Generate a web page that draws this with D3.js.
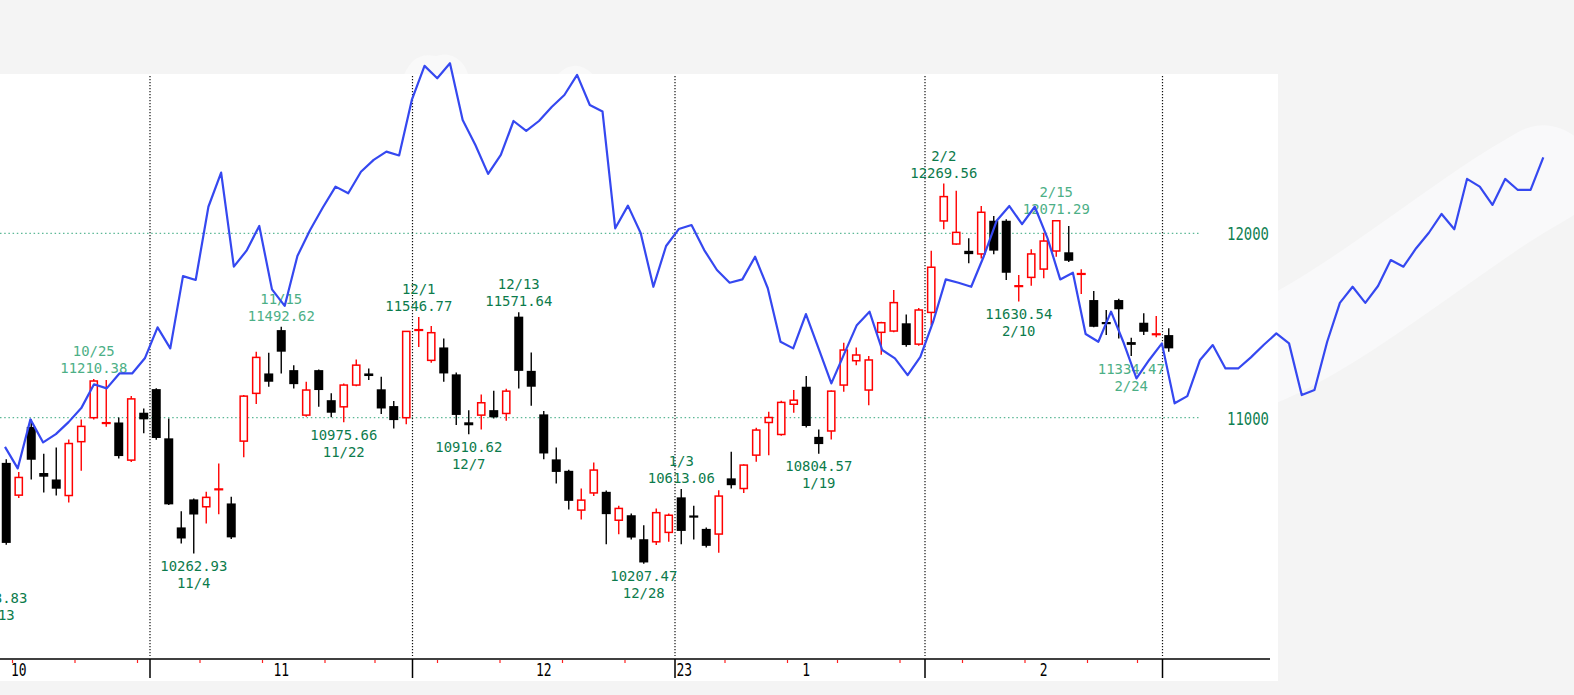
<!DOCTYPE html>
<html><head><meta charset="utf-8">
<script src="https://cdn.jsdelivr.net/npm/d3@7"></script>
<style>html,body{margin:0;padding:0;background:#f4f4f4;overflow:hidden}svg{display:block}</style>
</head><body>
<svg id="chart" width="1574" height="695"></svg>
<script>
// ---------- data ----------
const dates = ["10/13","10/14","10/17","10/18","10/19","10/20","10/21","10/24","10/25","10/26","10/27","10/28","10/31",
"11/1","11/2","11/3","11/4","11/7","11/8","11/9","11/10","11/11","11/14","11/15","11/16","11/17","11/18","11/21","11/22","11/23","11/25","11/28","11/29","11/30",
"12/1","12/2","12/5","12/6","12/7","12/8","12/9","12/12","12/13","12/14","12/15","12/16","12/19","12/20","12/21","12/22","12/23","12/27","12/28","12/29","12/30",
"1/3","1/4","1/5","1/6","1/9","1/10","1/11","1/12","1/13","1/17","1/18","1/19","1/20","1/23","1/24","1/25","1/26","1/27","1/30","1/31",
"2/1","2/2","2/3","2/6","2/7","2/8","2/9","2/10","2/13","2/14","2/15","2/16","2/17","2/21","2/22","2/23","2/24","2/27","2/28",
"3/1"];
const openP = [10180,10755,10580,10950,10700,10665,10578,10870,11000,10968,10974,10770,11027,
11155,10888,10405,10557,10517,10608,10535,10873,11132,11240,11475,11258,11014,11258,11095,11059,11177,11240,11154,11063,11000,
11470,11311,11381,11235,10975,11014,11041,11023,11548,11254,11018,10774,10712,10499,10592,10598,10444,10471,10341,10327,10378,
10568,10470,10397,10369,10671,10616,10797,10974,10909,11073,11168,10896,10928,11177,11309,11150,11463,11470,11512,11399,
11571,12067,11942,11905,11888,12068,12068,11710,11761,11806,11904,11897,11774,11638,11520,11638,11410,11515,11450,
11448];
const highP = [10688,10774,10705,10990,10805,10838,10882,10990,11210.38,11204,11001,11118,11050,
11160,10996,10493,10562,10598,10752,10571,11123,11358,11352,11492.62,11285,11195,11262,11132,11186,11316,11267,11222,11090,11470,
11546.77,11497,11430,11245,11041,11126,11146,11157,11571.64,11354,11036,10839,10718,10616,10757,10605,10522,10481,10417,10508,10480,
10613.06,10522,10405,10607,10815,10748,10945,11032,11092,11150,11226,10936,11148,11406,11381,11334,11520,11692,11560,11595,
11906,12269.56,12231,11973,12148,12094,12076,11774,11913,12003,12071.29,12040,11805,11687,11584,11645,11433,11566,11551,
11485];
const lowP = [10088.83,10311,10565,10665,10595,10578,10540,10712,10990,10951,10779,10760,10915,
10880,10526,10318,10262.93,10426,10477,10342,10785,11074,11168,11240,11159,11005,11059,11002,10975.66,11170,11204,11020,10942,10964,
11383,11298,11195,10960,10910.62,10936,10996,10983,11159,11065,10774,10643,10502,10448,10575,10314,10368,10340,10207.47,10309,10327,
10314,10340,10296,10267,10616,10592,10761,10797,10902,11027,10947,10804.57,10882,11141,11285,11068,11341,11463,11385,11390,
11502,12022,11938,11837,11864,11886,11747,11630.54,11716,11756,11873,11845,11671,11490,11448,11430,11334.47,11448,11436,
11358];
const closeP = [10649,10321,10676,10772,10680,10615,10860,10953,11199,10975,10792,11102,10991,
10890,10530,10345,10475,10568,10616,10351,11117,11327,11195,11358,11182,11150,11150,11027,11177,11285,11226,11050,10987,11468,
11482,11461,11240,11015,10959,11081,11002,11144,11254,11168,10806,10706,10549,10553,10716,10477,10508,10350,10215,10485,10471,
10386,10459,10305,10575,10634,10743,10933,11001,11083,11095,10955,10857,11144,11367,11340,11313,11515,11624,11394,11584,
11816,12199,12005,11887,12114,11906,11786,11718,11888,11958,12068,11851,11786,11493,11507,11588,11395,11466,11456,
11376];

// blue overlay line (one point per step)
const lineValues = [10842,10725,10991,10866,10911,10976,11052,11181,11159,11240,
11240,11322,11490,11376,11768,11747,12144,12329,11819,11906,
12040,11696,11606,11877,12018,12140,12253,12217,12334,12398,
12443,12422,12723,12908,12841,12922,12615,12479,12322,12425,
12609,12555,12609,12685,12750,12859,12696,12660,12027,12150,
12002,11710,11931,12023,12045,11909,11801,11732,11750,11873,
11702,11412,11376,11562,11374,11186,11345,11502,11575,11367,
11322,11231,11330,11519,11750,11732,11710,11877,12068,12148,
12050,12144,11974,11750,11786,11454,11412,11575,11405,11213,
11313,11403,11078,11117,11313,11394,11267,11267,11327,11394,
11457,11403,11123,11150,11412,11623,11710,11623,11714,11855,
11819,11919,12003,12105,12022,12295,12253,12154,12295,12235,
12235,12412];

const yTickValues = [11000, 12000];
const monthLabels = ["10","11","12","1","2"];
const monthLabelDates = ["10/17","11/15","12/15","1/18","2/14"];
const yearLabel = "23";
const yearLabelDate = "1/3";

const annoDates = ["10/13","10/25","11/4","11/15","11/22","12/1","12/7","12/13","12/28","1/3","1/19","2/2","2/10","2/15","2/24"];
const annoKinds = ["L","H","L","H","L","H","L","H","L","H","L","H","L","H","L"];
const annoLight = [false,true,false,true,false,false,false,false,false,false,false,false,false,true,true];

// ---------- layout ----------
const svg = d3.select("#chart");
const plot = {left:0, top:74, right:1278, bottom:681};
const axisY = 659;
const step = 12.5;
const FONT = "'DejaVu Sans Mono', 'Liberation Mono', monospace";
const SX = 0.775;       // horizontal squeeze for axis glyphs
const ANNO_FS = 14.5;   // annotation font size
const ANNO_SX = 0.96;   // gives ~8.4px per character
const ANNO_GAP = 17;    // line spacing of the two-line labels

const x = d3.scaleBand().domain(dates).range([-step, -step + dates.length*step]).padding(0);
const cx = d => x(d) + x.bandwidth()/2;
const y = d3.scaleLinear().domain([11000, 12000]).range([417.7, 233.3]);
const xl = d3.scaleLinear().domain([0, lineValues.length-1]).range([5, 1543.3]);

const toDate = s => { const [m,d] = s.split("/").map(Number); return new Date(m >= 10 ? 2022 : 2023, m-1, d); };

const defs = svg.append("defs");
defs.append("clipPath").attr("id","outside").append("rect").attr("x",plot.right).attr("y",0).attr("width",400).attr("height",695);
defs.append("clipPath").attr("id","above").append("rect").attr("x",0).attr("y",0).attr("width",plot.right).attr("height",plot.top);

// background plot area
svg.append("rect").attr("x",plot.left).attr("y",plot.top).attr("width",plot.right-plot.left).attr("height",plot.bottom-plot.top).attr("fill","#ffffff");

// faint light halo where the overlay line leaves the plot (smoothed through every 6th point)
const haloIdx = d3.range(94, lineValues.length, 6).concat([lineValues.length-1]);
svg.append("path").datum(haloIdx).attr("clip-path","url(#outside)")
  .attr("fill","none").attr("stroke","#f9f9fa").attr("stroke-width",100).attr("stroke-linecap","round")
  .attr("transform","translate(0,18)")
  .attr("d", d3.line().x(i=>xl(i)).y(i=>y(lineValues[i])).curve(d3.curveBasis));
svg.append("path").datum(lineValues).attr("clip-path","url(#above)")
  .attr("fill","none").attr("stroke","#f9f9f9").attr("stroke-width",34).attr("stroke-linecap","round")
  .attr("d", d3.line().x((d,i)=>xl(i)).y(d=>y(d)).curve(d3.curveBasis));

// horizontal grid
svg.append("g").selectAll("line").data(yTickValues).join("line")
  .attr("x1",0).attr("x2",1200).attr("y1",d=>y(d)).attr("y2",d=>y(d))
  .attr("stroke","#5cb896").attr("stroke-width",1.2).attr("stroke-dasharray","1.5,2.7");
svg.append("g").selectAll("text").data(yTickValues).join("text")
  .attr("transform",d=>`translate(1269,${y(d)+7}) scale(${SX},1)`).attr("text-anchor","end")
  .attr("font-family",FONT).attr("font-size",18).attr("fill","#0f7f52")
  .text(d=>d);

// month boundaries
const monthStarts = dates.filter((d,i)=> i>0 && d.split("/")[0] !== dates[i-1].split("/")[0]);
const weekStarts = dates.filter((d,i)=> i>0 && +d3.timeMonday.floor(toDate(d)) !== +d3.timeMonday.floor(toDate(dates[i-1])) && !monthStarts.includes(d));

svg.append("g").selectAll("line").data(monthStarts).join("line")
  .attr("x1",d=>x(d)).attr("x2",d=>x(d)).attr("y1",plot.top+2).attr("y2",axisY-3)
  .attr("stroke","#111").attr("stroke-width",1.2).attr("stroke-dasharray","1.2,1.8");

// axis
svg.append("line").attr("x1",0).attr("x2",1270).attr("y1",axisY).attr("y2",axisY).attr("stroke","#000").attr("stroke-width",1.7);
svg.append("g").selectAll("line").data(monthStarts).join("line")
  .attr("x1",d=>x(d)).attr("x2",d=>x(d)).attr("y1",axisY).attr("y2",678)
  .attr("stroke","#000").attr("stroke-width",1.5);
svg.append("g").selectAll("line").data(weekStarts).join("line")
  .attr("x1",d=>x(d)).attr("x2",d=>x(d)).attr("y1",axisY+1).attr("y2",axisY+4)
  .attr("stroke","#ff2020").attr("stroke-width",1.2);
svg.append("g").selectAll("text").data(monthLabels).join("text")
  .attr("transform",(d,i)=>`translate(${cx(monthLabelDates[i])},675.5) scale(0.72,1)`).attr("text-anchor","middle")
  .attr("font-family",FONT).attr("font-size",18).attr("fill","#000")
  .text(d=>d);
svg.append("text").attr("transform",`translate(${x(yearLabelDate)+1.5},675.5) scale(0.72,1)`)
  .attr("font-family",FONT).attr("font-size",18).attr("fill","#000").text(yearLabel);

// candles
const candles = dates.map((d,i)=>({d, o:openP[i], h:highP[i], l:lowP[i], c:closeP[i], up: closeP[i] >= openP[i]}));
const cg = svg.append("g");
cg.selectAll("line.wick").data(candles).join("line").attr("class","wick")
  .attr("x1",d=>cx(d.d)).attr("x2",d=>cx(d.d)).attr("y1",d=>y(d.h)).attr("y2",d=>y(d.l))
  .attr("stroke",d=>d.up?"#ff0000":"#000").attr("stroke-width",1.4);
cg.selectAll("rect.body").data(candles.filter(d=>Math.abs(y(d.o)-y(d.c))>=2.5)).join("rect").attr("class","body")
  .attr("x",d=>d.up? cx(d.d)-3.6 : cx(d.d)-4.5)
  .attr("width",d=>d.up?7.2:9)
  .attr("y",d=>Math.min(y(d.o),y(d.c)))
  .attr("height",d=>Math.abs(y(d.o)-y(d.c)))
  .attr("fill",d=>d.up?"#fff":"#000")
  .attr("stroke",d=>d.up?"#ff0000":"none").attr("stroke-width",1.5);
cg.selectAll("rect.doji").data(candles.filter(d=>Math.abs(y(d.o)-y(d.c))<2.5)).join("rect").attr("class","doji")
  .attr("x",d=>cx(d.d)-4.5).attr("width",9)
  .attr("y",d=>(y(d.o)+y(d.c))/2-1).attr("height",2.2)
  .attr("fill",d=>d.up?"#ff0000":"#000");

// annotations (two-line labels at highs / lows)
const annos = annoDates.map((d,i)=>{
  const idx = dates.indexOf(d);
  const v = annoKinds[i]==="H" ? highP[idx] : lowP[idx];
  return {d, v, kind:annoKinds[i], light:annoLight[i]};
});
const ag = svg.append("g").attr("font-family",FONT).attr("font-size",ANNO_FS).attr("text-anchor","middle");
annos.forEach(a=>{
  const yy = y(a.v);
  const vs = d3.format(".2f")(a.v);
  const lines = a.kind==="H"
    ? [[a.d, yy-6-ANNO_GAP],[vs, yy-6]]
    : [[vs, yy+17.5],[a.d, yy+17.5+ANNO_GAP]];
  lines.forEach(([t,ty])=>{
    ag.append("text").attr("transform",`translate(${cx(a.d)},${ty}) scale(${ANNO_SX},1)`)
      .attr("fill",a.light?"#4caf86":"#0c7b4c").text(t);
  });
});

// blue overlay line
svg.append("path").datum(lineValues)
  .attr("fill","none").attr("stroke","#3548f0").attr("stroke-width",2.2).attr("stroke-linejoin","round")
  .attr("d", d3.line().x((d,i)=>xl(i)).y(d=>y(d)));
</script>
</body></html>
